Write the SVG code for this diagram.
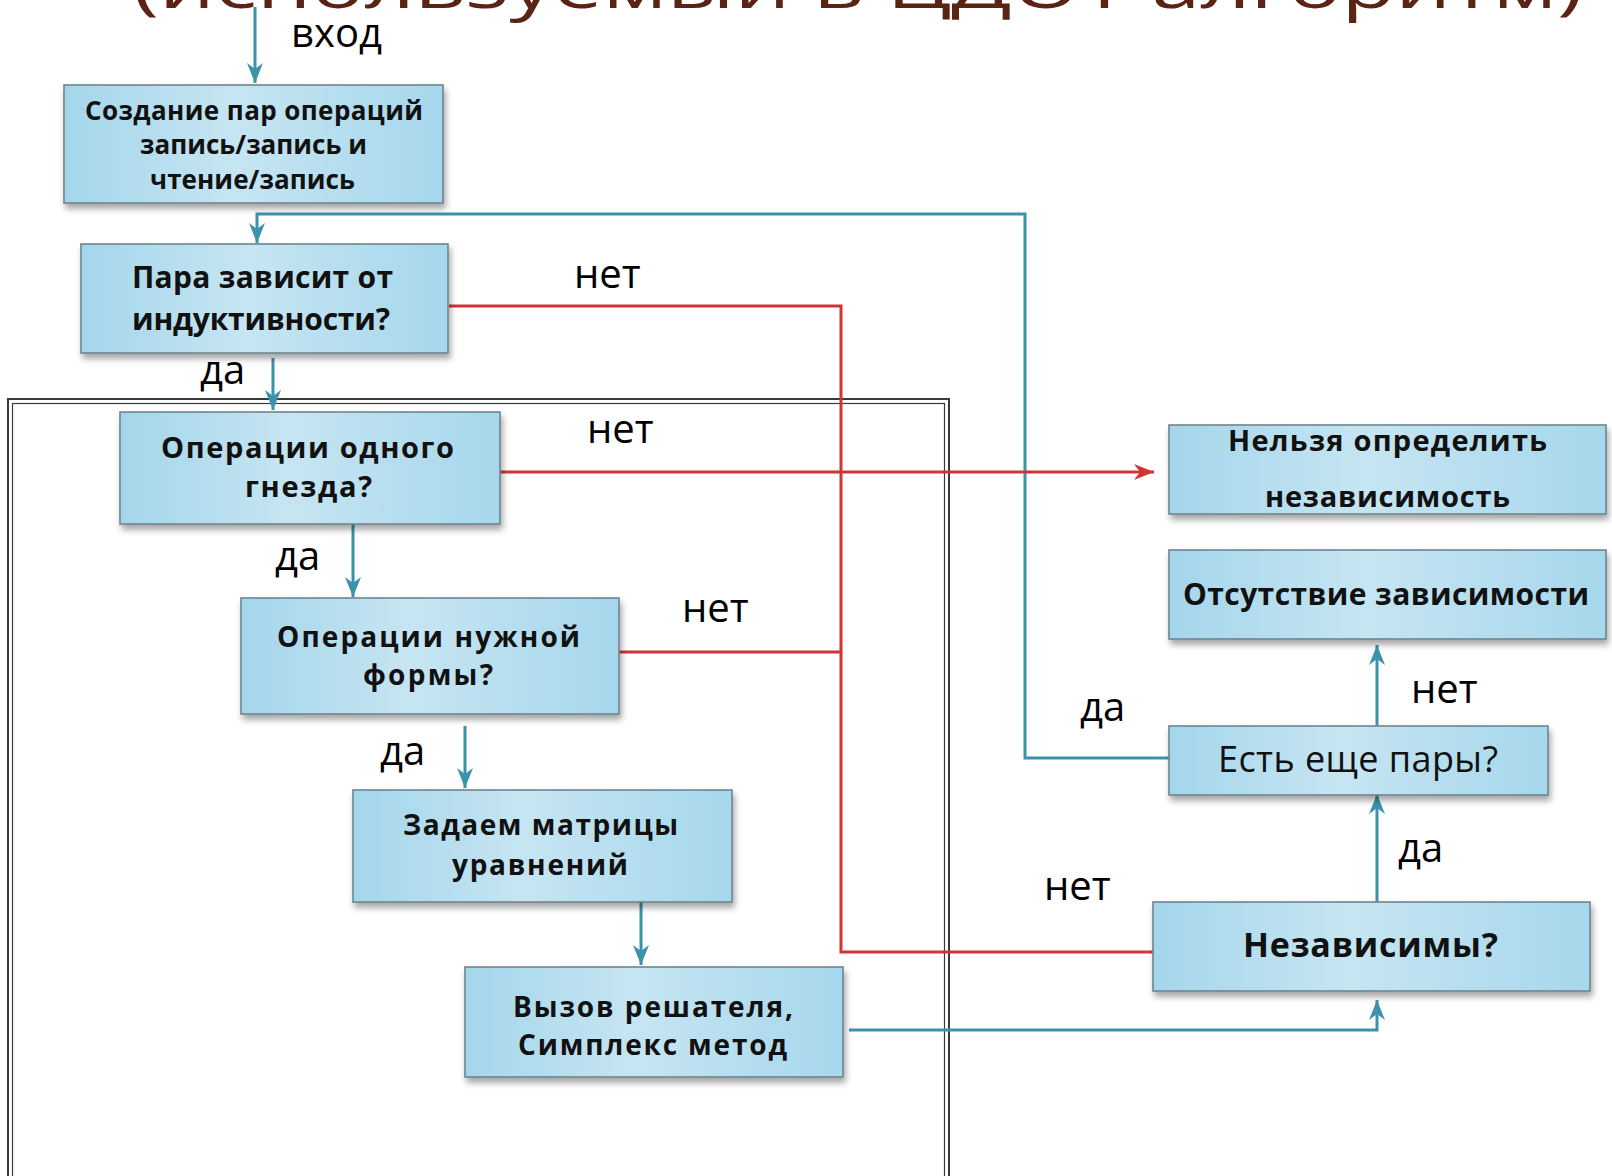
<svg xmlns="http://www.w3.org/2000/svg" width="1612" height="1176" viewBox="0 0 1612 1176">
<style>
.box{fill:url(#bg);stroke:#6f858d;stroke-width:1.6;filter:url(#sh)}
.bt{font-family:"Open Sans","Noto Sans","DejaVu Sans",sans-serif;font-weight:700;fill:#111;text-anchor:middle}
.lb{font-family:"Open Sans","Noto Sans","DejaVu Sans",sans-serif;font-size:40px;fill:#000}
.bl{fill:none;stroke:#3a93ab;stroke-width:3}
.rd{fill:none;stroke:#cf3535;stroke-width:3}
</style>
<defs>
<linearGradient id="bg" x1="0" y1="0" x2="1" y2="0">
<stop offset="0" stop-color="#a4d6eb"/>
<stop offset="0.45" stop-color="#c6e5f2"/>
<stop offset="1" stop-color="#a6d7ec"/>
</linearGradient>
<filter id="sh" x="-10%" y="-20%" width="125%" height="150%">
<feDropShadow dx="2" dy="5" stdDeviation="3" flood-color="#000" flood-opacity="0.35"/>
</filter>
<marker id="ab" markerUnits="userSpaceOnUse" markerWidth="20" markerHeight="16" refX="20" refY="8" orient="auto">
<path d="M0,0 L20,8 L0,16 L6,8 z" fill="#3a93ab"/>
</marker>
<marker id="ar" markerUnits="userSpaceOnUse" markerWidth="20" markerHeight="16" refX="20" refY="8" orient="auto">
<path d="M0,0 L20,8 L0,16 L6,8 z" fill="#cf3535"/>
</marker>
</defs>

<text x="858" y="8" font-family="'Open Sans', sans-serif" font-size="62" fill="#5b2314" text-anchor="middle" textLength="1450" lengthAdjust="spacingAndGlyphs">(используемый в ЦДОТ алгоритм)</text>

<g id="frame">
<rect x="8" y="399" width="941" height="900" fill="none" stroke="#3a3a3a" stroke-width="2"/>
<rect x="12.5" y="403.5" width="932" height="900" fill="none" stroke="#3a3a3a" stroke-width="1.2"/>
</g>

<g id="connectors">
<path class="bl" d="M255,7 V83" marker-end="url(#ab)"/>
<path class="bl" d="M1169,758 H1025 V214 H257 V243" marker-end="url(#ab)"/>
<path class="bl" d="M273,358 V410" marker-end="url(#ab)"/>
<path class="bl" d="M353,519 V597" marker-end="url(#ab)"/>
<path class="bl" d="M465,726 V788" marker-end="url(#ab)"/>
<path class="bl" d="M641,902 V965" marker-end="url(#ab)"/>
<path class="bl" d="M849,1030 H1377 V1000" marker-end="url(#ab)"/>
<path class="bl" d="M1377,902 V794" marker-end="url(#ab)"/>
<path class="bl" d="M1377,726 V645" marker-end="url(#ab)"/>
<path class="rd" d="M449,306 H841 V952 H1153"/>
<path class="rd" d="M617,652 H841"/>
<path class="rd" d="M497,472 H1154" marker-end="url(#ar)"/>
<text class="lb" x="291" y="47">вход</text>
<text class="lb" x="200" y="384">да</text>
<text class="lb" x="275" y="570">да</text>
<text class="lb" x="380" y="765">да</text>
<text class="lb" x="1080" y="721">да</text>
<text class="lb" x="1398" y="862">да</text>
<text class="lb" x="574" y="288">нет</text>
<text class="lb" x="587" y="443">нет</text>
<text class="lb" x="682" y="622">нет</text>
<text class="lb" x="1044" y="900">нет</text>
<text class="lb" x="1411" y="703">нет</text>
</g>

<g id="n1">
<rect class="box" x="64" y="85" width="379" height="118"/>
<text class="bt" font-size="26" x="254" y="120" textLength="338">Создание пар операций</text>
<text class="bt" font-size="26" x="253.5" y="154" textLength="227">запись/запись и</text>
<text class="bt" font-size="26" x="252.5" y="189" textLength="205">чтение/запись</text>
</g>
<g id="n2">
<rect class="box" x="81" y="244" width="367" height="109"/>
<text class="bt" font-size="30" x="262.5" y="288" textLength="261">Пара зависит от</text>
<text class="bt" font-size="30" x="261" y="330" textLength="258">индуктивности?</text>
</g>
<g id="n3">
<rect class="box" x="120" y="412" width="380" height="112"/>
<text class="bt" font-size="29" x="307.5" y="458" textLength="293">Операции одного</text>
<text class="bt" font-size="29" x="308.5" y="497" textLength="127">гнезда?</text>
</g>
<g id="n4">
<rect class="box" x="241" y="598" width="378" height="116"/>
<text class="bt" font-size="28" x="428.5" y="647" textLength="303">Операции нужной</text>
<text class="bt" font-size="28" x="428" y="685" textLength="130">формы?</text>
</g>
<g id="n5">
<rect class="box" x="353" y="790" width="379" height="112"/>
<text class="bt" font-size="28" x="540.5" y="835" textLength="275">Задаем матрицы</text>
<text class="bt" font-size="28" x="540" y="875" textLength="176">уравнений</text>
</g>
<g id="n6">
<rect class="box" x="465" y="967" width="378" height="110"/>
<text class="bt" font-size="28" x="653" y="1017" textLength="280">Вызов решателя,</text>
<text class="bt" font-size="28" x="652.5" y="1055" textLength="269">Симплекс метод</text>
</g>
<g id="n7">
<rect class="box" x="1169" y="425" width="437" height="89"/>
<text class="bt" font-size="29" x="1387.5" y="451" textLength="319">Нельзя определить</text>
<text class="bt" font-size="29" x="1387.5" y="507" textLength="245">независимость</text>
</g>
<g id="n8">
<rect class="box" x="1169" y="550" width="437" height="89"/>
<text class="bt" font-size="30" x="1386" y="605" textLength="406">Отсутствие зависимости</text>
</g>
<g id="n9">
<rect class="box" x="1169" y="726" width="379" height="69"/>
<text class="bt" font-size="36" style="font-weight:400" x="1358" y="772" textLength="280">Есть еще пары?</text>
</g>
<g id="n10">
<rect class="box" x="1153" y="902" width="437" height="89"/>
<text class="bt" font-size="34" x="1370.5" y="957" textLength="255">Независимы?</text>
</g>
</svg>
